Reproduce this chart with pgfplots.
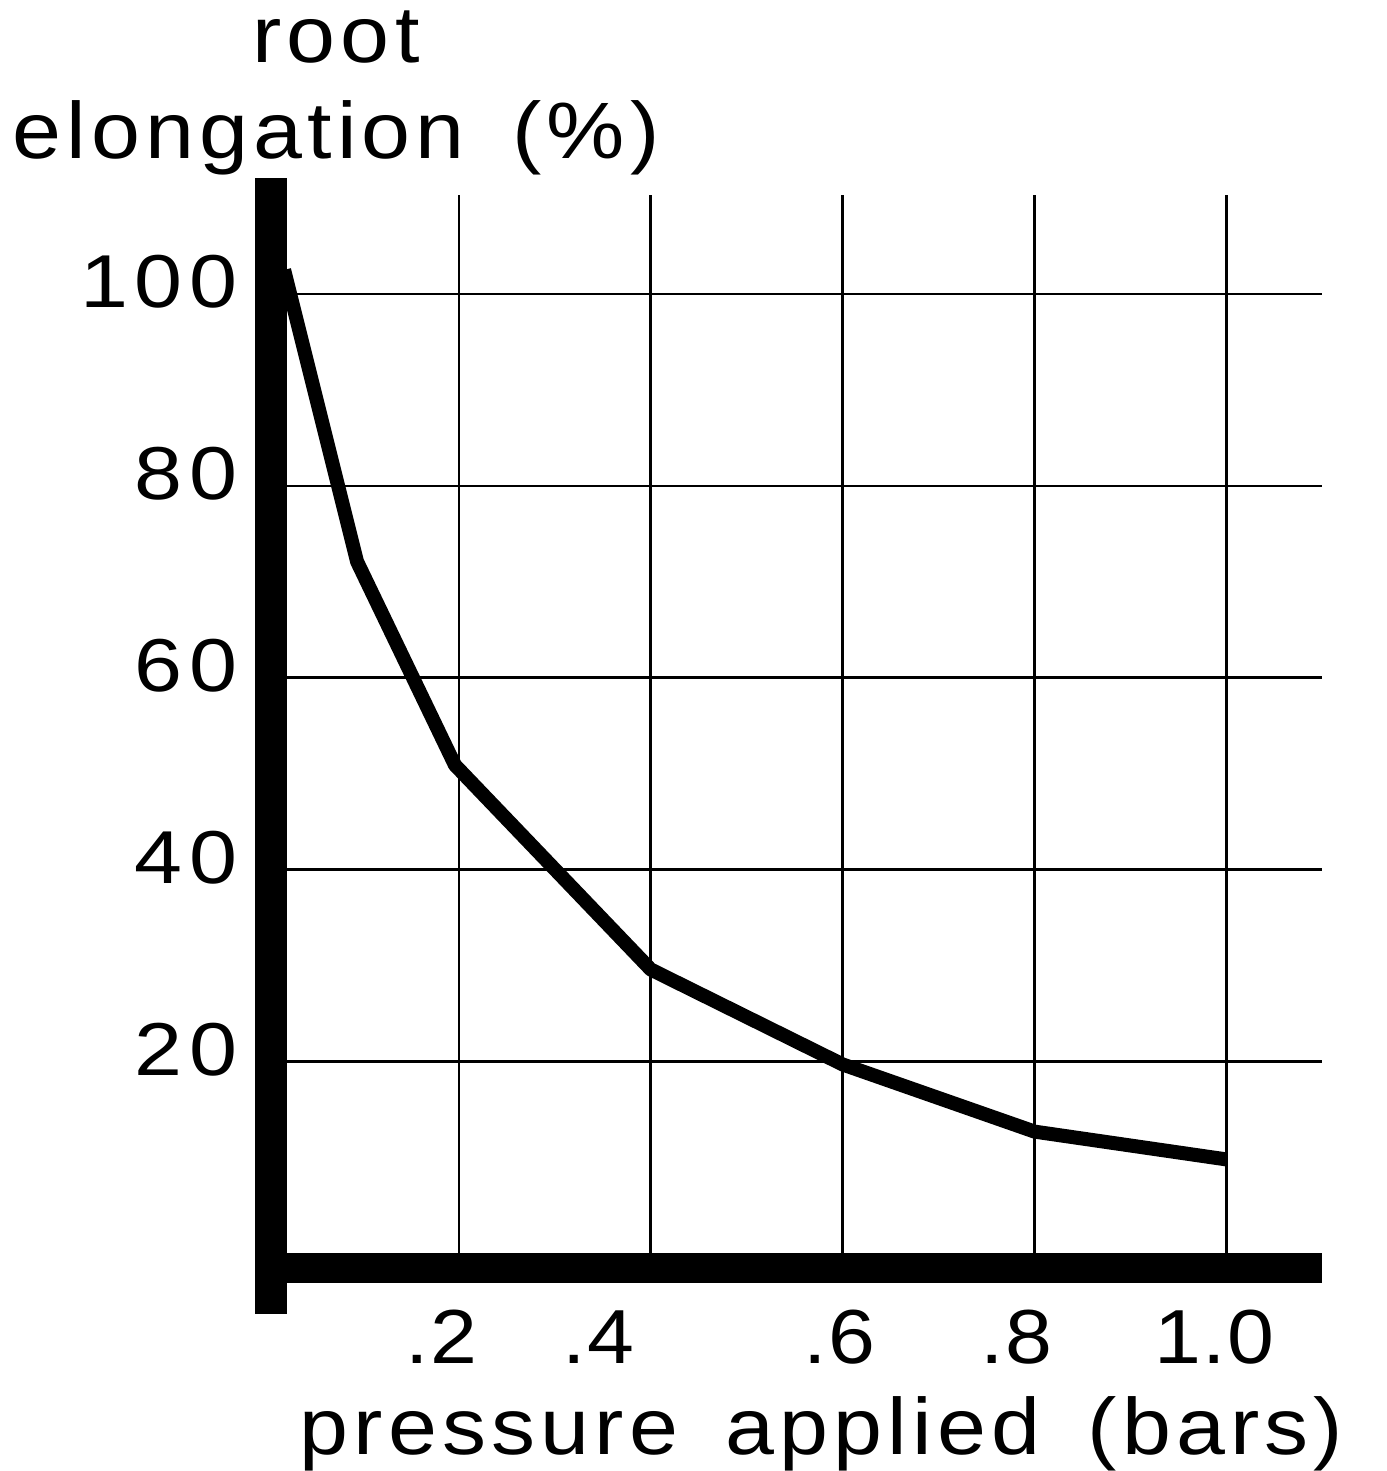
\documentclass[border=0pt]{standalone}
\usepackage{pgfplots}
\pgfplotsset{compat=1.18}
\usepackage{fontspec}
\setmainfont{Liberation Sans}[FakeStretch=1.1,LetterSpace=6.5,WordSpace=1.6]
\newfontfamily\ytickfont{Liberation Sans}[FakeStretch=1.15,LetterSpace=9]
\newfontfamily\xtickfont{Liberation Sans}[FakeStretch=1.1,LetterSpace=2]
\begin{document}
\begin{tikzpicture}
\begin{axis}[
  x=288pt, y=2.88pt,
  xmin=0, xmax=1.1, ymin=0, ymax=110.3,
  axis line style={draw=none},
  clip=false,
  xtick={0.2,0.4,0.6,0.8,1.0}, xticklabels={},
  ytick={20,40,60,80,100}, yticklabels={20,40,60,80,100},
  grid=major, major grid style={black, line width=0.75pt},
  tick style={draw=none}, major tick length=0pt,
  yticklabel style={anchor=base east, inner sep=0pt, xshift=-8.6pt, yshift=-4.2pt, font=\ytickfont\fontsize{22.5}{27}\selectfont},
  extra x ticks={0.182,0.346,0.597,0.781,0.9875},
  extra x tick labels={.2,.4,.6,.8,1.0},
  extra x tick style={grid=none, xticklabel style={anchor=base, inner sep=0pt, yshift=-33pt, font=\xtickfont\fontsize{23}{27}\selectfont}},
]
\addplot[black, line width=4.2pt, line join=bevel, no marks] coordinates {
  (0.018,102.5) (0.094,72.1) (0.196,50.9) (0.4,29.6) (0.6,19.7) (0.8,12.7) (1.0,9.8)
};
\fill[black] (axis cs:-0.0125,-6.35) rectangle (axis cs:0.0208,112.08);
\fill[black] (axis cs:0.0208,0) rectangle (axis cs:1.1,-3.125);
\node[anchor=base, inner sep=0pt, font=\fontsize{24}{29}\selectfont] at (axis cs:0.072,124.06) {root};
\node[anchor=base, inner sep=0pt, font=\fontsize{24}{29}\selectfont] at (axis cs:0.072,114.06) {elongation (\%)};
\node[anchor=base, inner sep=0pt, font=\fontsize{24}{29}\selectfont] at (axis cs:0.578,-20.94) {pressure applied (bars)};
\path (axis cs:-0.2781,-22.604) rectangle (axis cs:1.1667,130.625);
\end{axis}
\end{tikzpicture}
\end{document}
